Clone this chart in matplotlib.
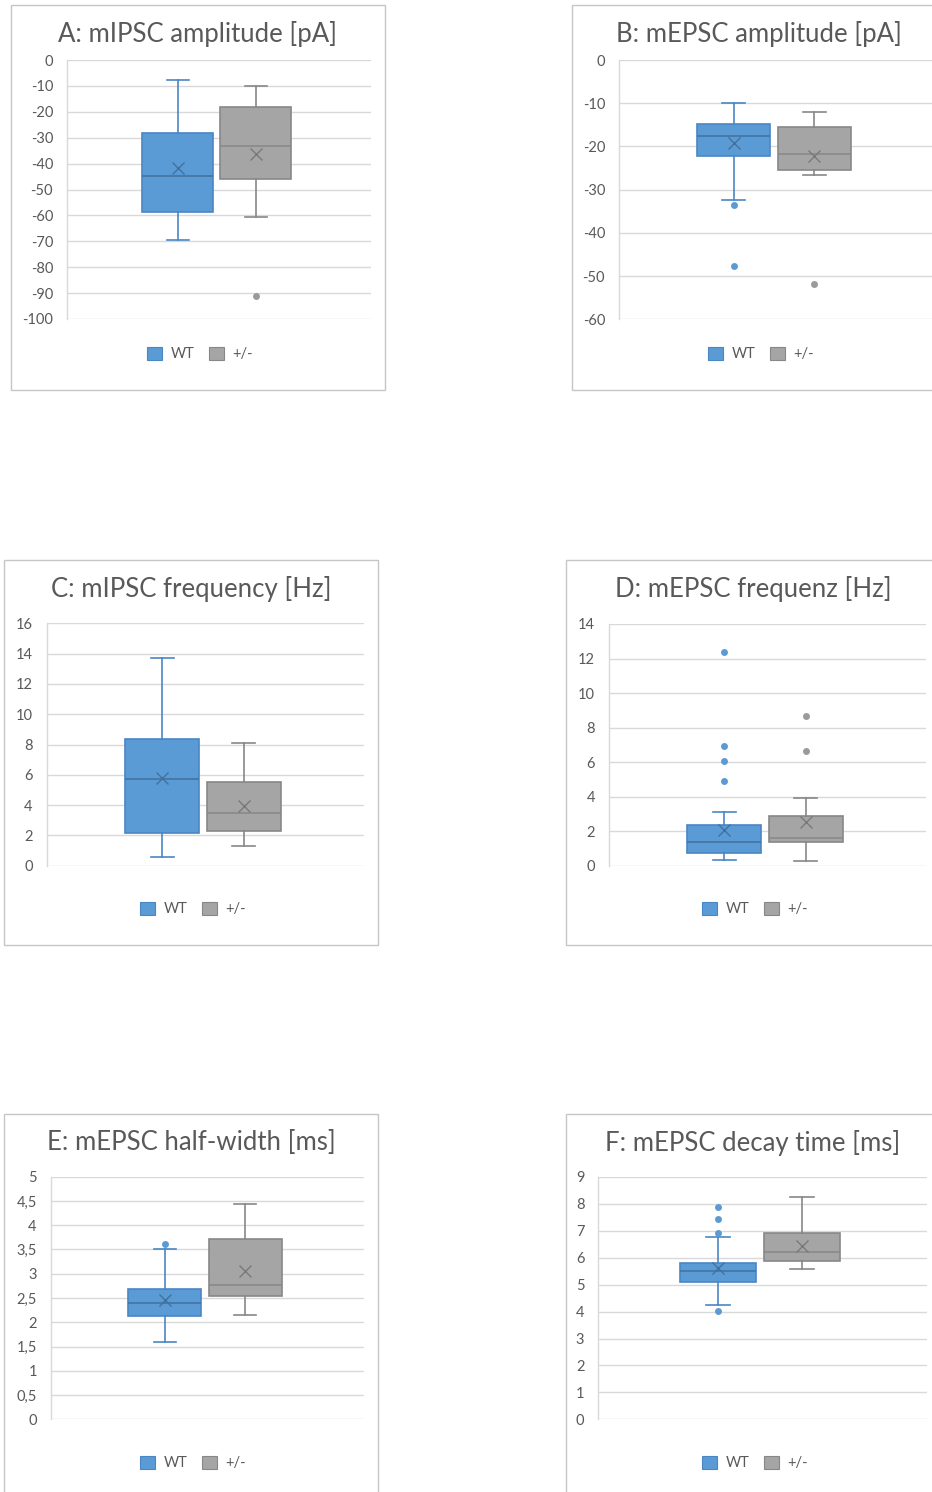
import matplotlib
matplotlib.use("Agg")
import matplotlib.pyplot as plt
from matplotlib.patches import Rectangle
from matplotlib.ticker import FixedLocator, FuncFormatter

plt.rcParams['font.family'] = ['Lato', 'DejaVu Sans']
plt.rcParams['axes.unicode_minus'] = False

# ---------------- data ----------------
groups = ["WT", "+/-"]
stat_keys = ["whislo", "q1", "med", "q3", "whishi", "mean"]

titles = ["A: mIPSC amplitude [pA]", "B: mEPSC amplitude [pA]",
          "C: mIPSC frequency [Hz]", "D: mEPSC frequenz [Hz]",
          "E: mEPSC half-width [ms]", "F: mEPSC decay time [ms]"]

# whislo, q1, median, q3, whishi, mean
A_wt = [-69.6, -58.7, -44.8, -28.1, -7.8, -41.8]
A_het = [-60.5, -46.1, -33.2, -18.3, -10.2, -36.3]
A_wt_out = []
A_het_out = [-91.1]
A_ticks = [-100, -90, -80, -70, -60, -50, -40, -30, -20, -10, 0]

B_wt = [-32.4, -22.1, -17.7, -14.8, -9.95, -19.3]
B_het = [-26.5, -25.5, -21.7, -15.5, -12.0, -22.2]
B_wt_out = [-33.5, -47.6]
B_het_out = [-51.8]
B_ticks = [-60, -50, -40, -30, -20, -10, 0]

C_wt = [0.59, 2.18, 5.74, 8.34, 13.7, 5.81]
C_het = [1.30, 2.27, 3.45, 5.52, 8.07, 3.96]
C_wt_out = []
C_het_out = []
C_ticks = [0, 2, 4, 6, 8, 10, 12, 14, 16]

D_wt = [0.35, 0.75, 1.39, 2.36, 3.11, 2.07]
D_het = [0.27, 1.37, 1.62, 2.86, 3.90, 2.53]
D_wt_out = [12.38, 6.93, 6.04, 4.92]
D_het_out = [8.65, 6.66]
D_ticks = [0, 2, 4, 6, 8, 10, 12, 14]

E_wt = [1.59, 2.12, 2.39, 2.68, 3.50, 2.45]
E_het = [2.15, 2.54, 2.77, 3.72, 4.43, 3.05]
E_wt_out = [3.61]
E_het_out = []
E_ticks = [0, 0.5, 1, 1.5, 2, 2.5, 3, 3.5, 4, 4.5, 5]

F_wt = [4.26, 5.09, 5.50, 5.82, 6.76, 5.61]
F_het = [5.60, 5.88, 6.21, 6.93, 8.27, 6.42]
F_wt_out = [7.87, 7.43, 6.93, 4.04]
F_het_out = []
F_ticks = [0, 1, 2, 3, 4, 5, 6, 7, 8, 9]

# ---------------- style ----------------
W, H = 932, 1492
TXT = '#595959'
GRID = '#D9D9D9'
FRAME = '#C6C6C6'
fills = ['#5B9BD5', '#A5A5A5']
edges = ['#4A86C4', '#878787']
means_c = ['#41719C', '#7A7A7A']
fliers_c = ['#5B9BD5', '#9A9A9A']

fig = plt.figure(figsize=(W / 100, H / 100), dpi=100)


def fx(x):
    return x / W


def fy(y):
    return 1 - y / H


def px_rect(x0, y0, x1, y1):
    return [x0 / W, 1 - y1 / H, (x1 - x0) / W, (y1 - y0) / H]


panels = [
    dict(title=titles[0], wt=A_wt, het=A_het, wo=A_wt_out, ho=A_het_out, ticks=A_ticks,
         frame=(11, 5, 385, 390), ax=(67, 60, 371, 319), tx=198, ty=34, ly=354),
    dict(title=titles[1], wt=B_wt, het=B_het, wo=B_wt_out, ho=B_het_out, ticks=B_ticks,
         frame=(572, 5, 946, 390), ax=(619, 60, 934, 319.3), tx=759, ty=34, ly=354),
    dict(title=titles[2], wt=C_wt, het=C_het, wo=C_wt_out, ho=C_het_out, ticks=C_ticks,
         frame=(4, 560, 378, 945), ax=(46.7, 623.3, 364, 865.7), tx=191, ty=589, ly=909),
    dict(title=titles[3], wt=D_wt, het=D_het, wo=D_wt_out, ho=D_het_out, ticks=D_ticks,
         frame=(566, 560, 940, 945), ax=(609, 624, 926, 865.7), tx=753, ty=589, ly=909),
    dict(title=titles[4], wt=E_wt, het=E_het, wo=E_wt_out, ho=E_het_out, ticks=E_ticks,
         frame=(4, 1114, 378, 1500), ax=(50.7, 1176.7, 364, 1419.3), tx=191, ty=1143, ly=1463),
    dict(title=titles[5], wt=F_wt, het=F_het, wo=F_wt_out, ho=F_het_out, ticks=F_ticks,
         frame=(566, 1114, 940, 1500), ax=(598.3, 1177, 926.7, 1419.3), tx=753, ty=1143, ly=1463),
]


def fmt(v, pos):
    s = f"{v:g}"
    return s.replace('.', ',')


for p in panels:
    x0, y0, x1, y1 = p['frame']
    fig.patches.append(Rectangle((fx(x0), fy(y1)), (x1 - x0) / W, (y1 - y0) / H,
                                 transform=fig.transFigure, fill=False,
                                 edgecolor=FRAME, lw=1.0, zorder=-1))
    ax = fig.add_axes(px_rect(*p['ax']))
    ax.set_facecolor('none')
    stats = []
    for vals, outs, lab in [(p['wt'], p['wo'], groups[0]), (p['het'], p['ho'], groups[1])]:
        d = dict(zip(stat_keys, vals))
        d['fliers'] = outs
        d['label'] = lab
        stats.append(d)
    for i, st in enumerate(stats):
        ax.bxp([st], positions=[i + 1], widths=0.91, patch_artist=True,
               showmeans=True, showfliers=True, capwidths=[0.28],
               boxprops=dict(facecolor=fills[i], edgecolor=edges[i], lw=1.2),
               whiskerprops=dict(color=edges[i], lw=1.2),
               capprops=dict(color=edges[i], lw=1.2),
               medianprops=dict(color=means_c[i] if i == 0 else edges[i], lw=1.1),
               meanprops=dict(marker='x', markeredgecolor=means_c[i], markersize=9,
                              markeredgewidth=1.0, linestyle='none'),
               flierprops=dict(marker='o', markerfacecolor=fliers_c[i],
                               markeredgecolor='none', markersize=5),
               manage_ticks=False)
    ax.set_xlim(-0.42, 3.48)
    t = p['ticks']
    ax.set_ylim(min(t), max(t))
    ax.yaxis.set_major_locator(FixedLocator(t))
    ax.yaxis.set_major_formatter(FuncFormatter(fmt))
    ax.set_xticks([])
    ax.tick_params(axis='y', length=0, pad=10, labelsize=10.5, labelcolor=TXT)
    ax.grid(axis='y', color=GRID, lw=1.0)
    ax.set_axisbelow(True)
    for s in ['top', 'right', 'bottom']:
        ax.spines[s].set_visible(False)
    ax.spines['left'].set_color(GRID)
    ax.spines['left'].set_linewidth(1.0)
    fig.text(fx(p['tx']), fy(p['ty']), p['title'], ha='center', va='center',
             fontsize=18.5, color=TXT)
    handles = [Rectangle((0, 0), 1, 1, facecolor=fills[i], edgecolor=edges[i], lw=0.8)
               for i in range(2)]
    fig.legend(handles, groups, loc='center', bbox_to_anchor=(fx(p['tx'] + 2), fy(p['ly'])),
               ncol=2, frameon=False, fontsize=10.5, labelcolor=TXT,
               handlelength=1.0, handleheight=1.0, handletextpad=0.6,
               columnspacing=1.0, borderaxespad=0, borderpad=0)

fig.savefig('out.png', dpi=100, facecolor='white')
